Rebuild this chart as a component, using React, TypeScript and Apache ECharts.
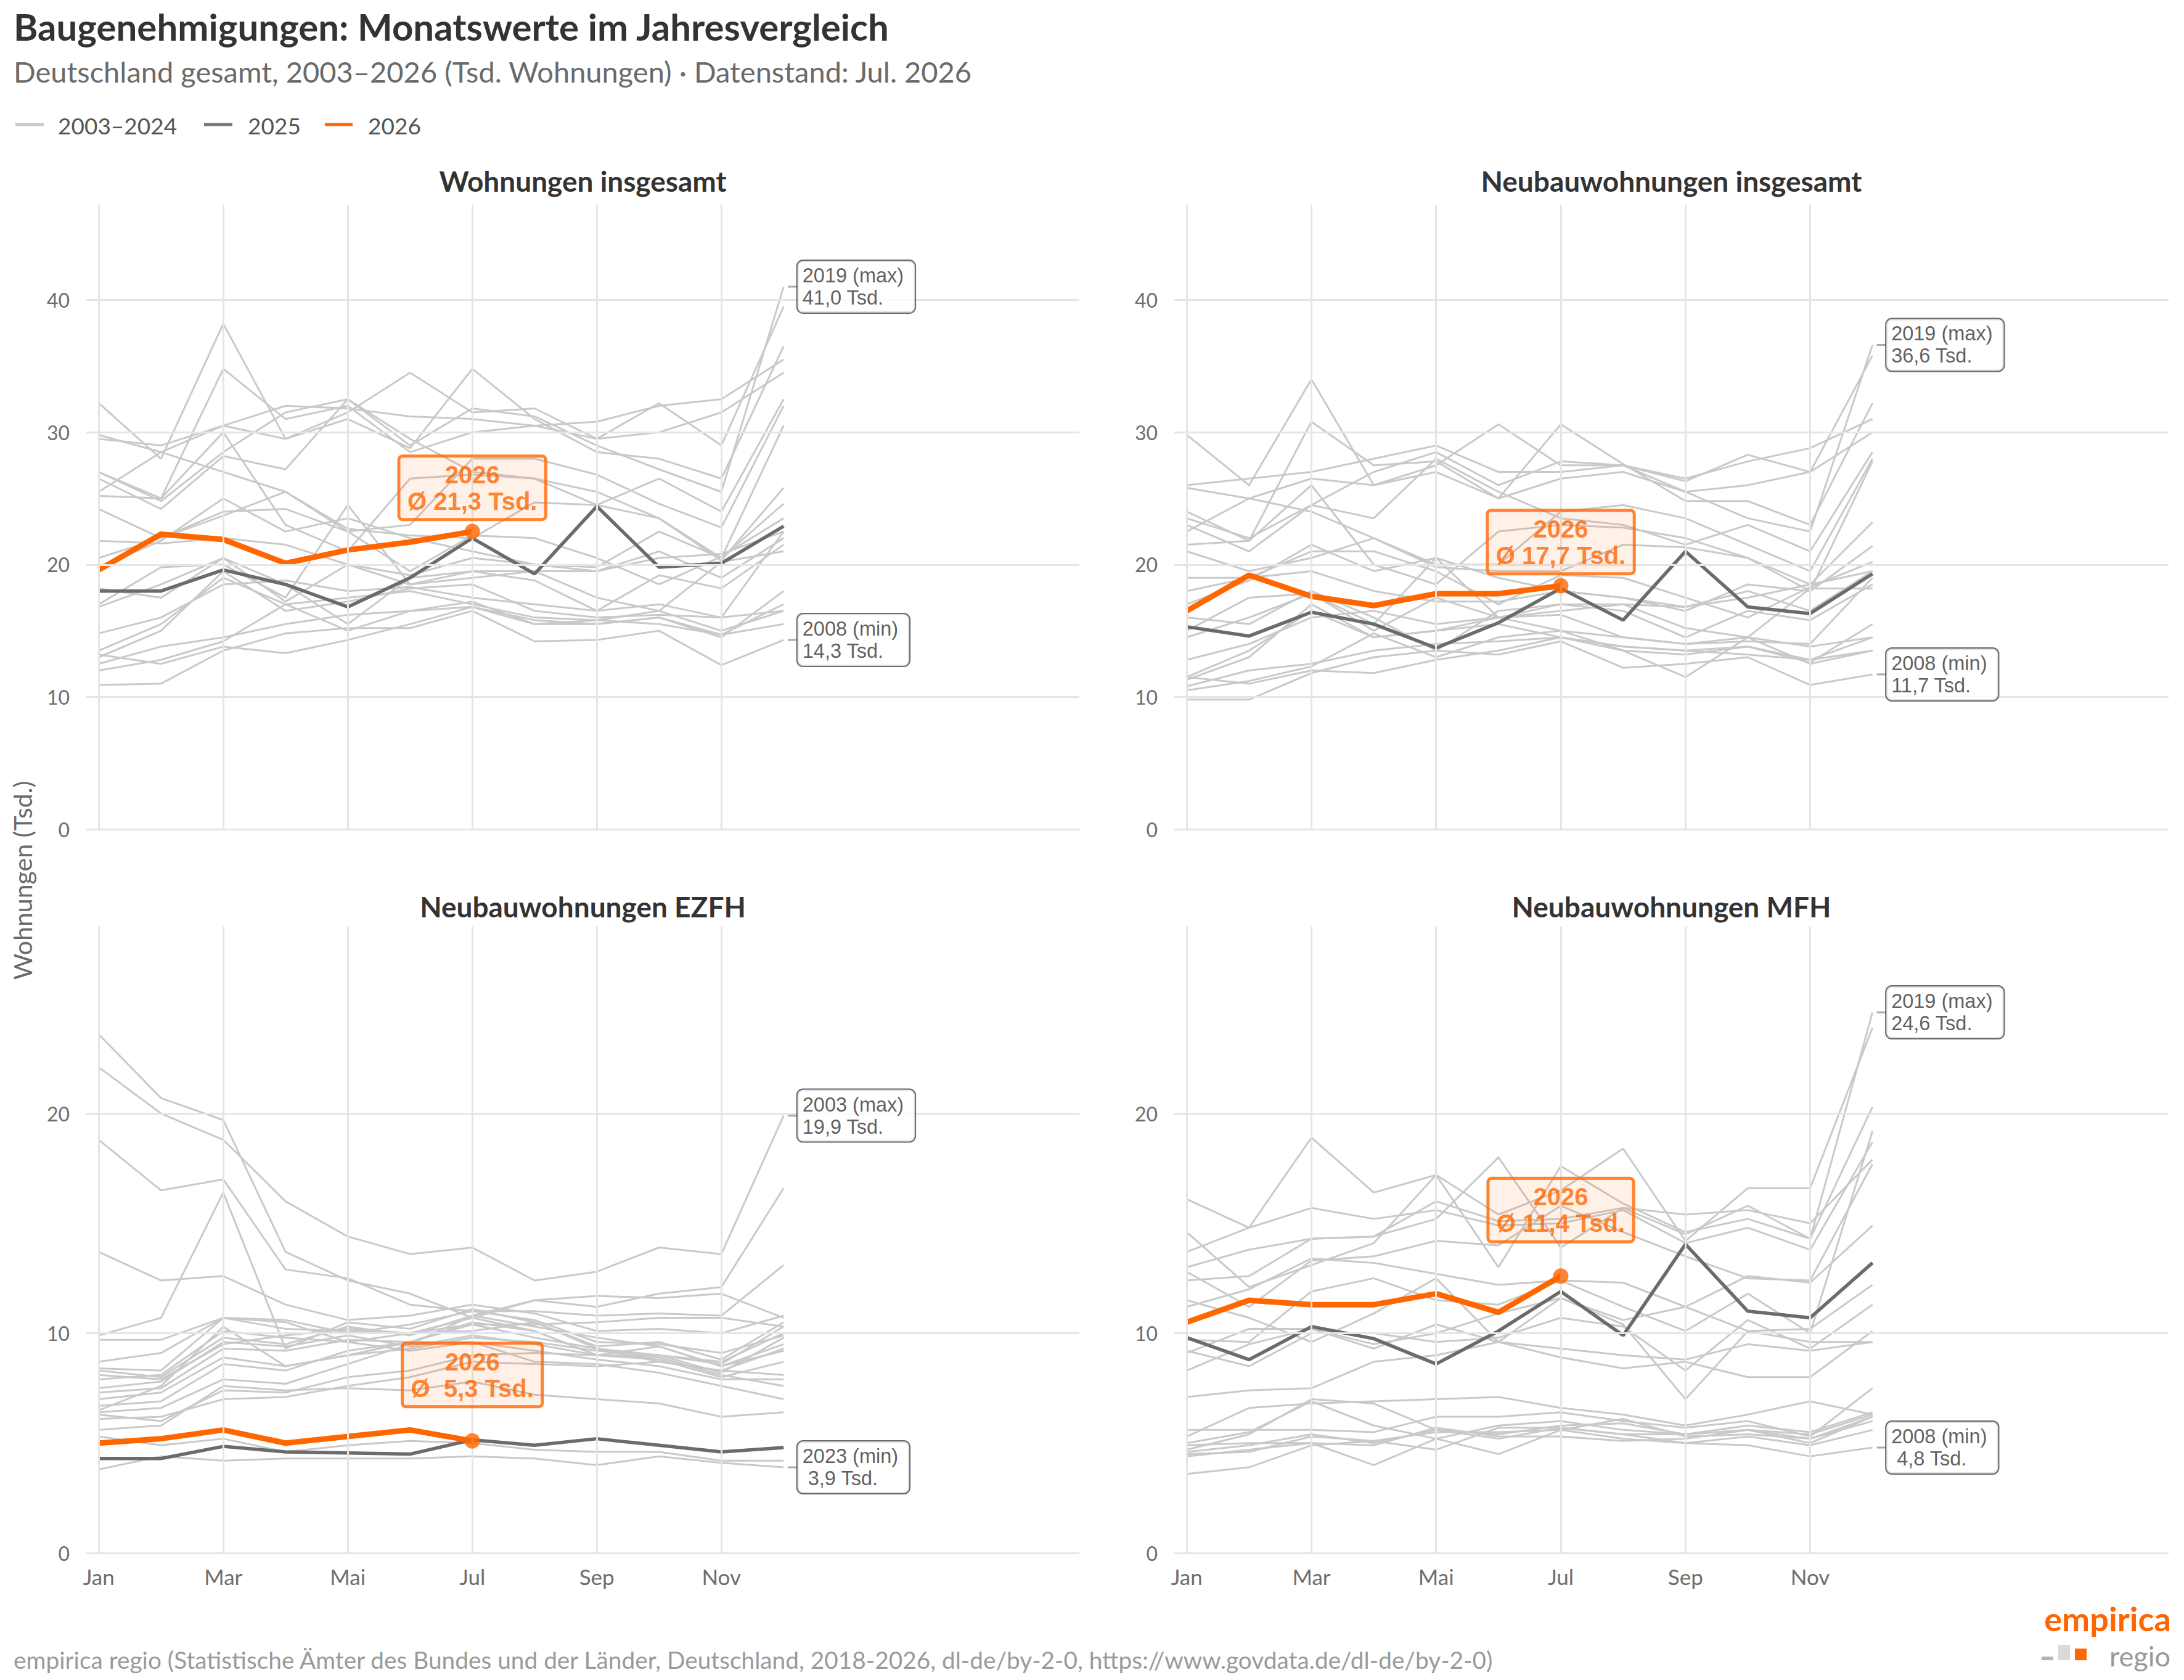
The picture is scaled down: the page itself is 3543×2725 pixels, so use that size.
import React, { useEffect, useRef } from "react";
import * as echarts from "echarts";

// ---------- data ----------
const monthNames = ["Jan", "Feb", "Mar", "Apr", "Mai", "Jun", "Jul", "Aug", "Sep", "Okt", "Nov", "Dez"];
const tickMonths = [1, 3, 5, 7, 9, 11];
const histYears = [2003, 2004, 2005, 2006, 2007, 2008, 2009, 2010, 2011, 2012, 2013, 2014, 2015, 2016, 2017, 2018, 2019, 2020, 2021, 2022, 2023, 2024];
const panelTitles = ["Wohnungen insgesamt", "Neubauwohnungen insgesamt", "Neubauwohnungen EZFH", "Neubauwohnungen MFH"];
const yTicksTop = [0, 10, 20, 30, 40];
const yTicksBottom = [0, 10, 20];

// Wohnungen insgesamt, 2003..2024 (Tsd.)
const insgesamtHist: number[][] = [
  [17.0, 19.8, 20.0, 17.5, 24.5, 18.5, 19.5, 19.5, 19.5, 21.0, 19.0, 22.0],
  [18.2, 17.5, 20.5, 18.5, 15.5, 19.0, 19.5, 18.8, 16.5, 19.2, 18.2, 21.5],
  [14.8, 16.0, 18.5, 18.8, 18.0, 18.3, 17.5, 17.0, 16.5, 17.0, 16.0, 16.5],
  [13.5, 15.5, 19.0, 17.0, 17.5, 18.0, 17.0, 16.0, 15.8, 15.5, 14.7, 17.0],
  [12.5, 13.8, 14.5, 15.5, 16.2, 16.5, 16.8, 15.8, 15.5, 16.0, 14.7, 15.5],
  [10.9, 11.0, 13.5, 14.8, 15.2, 15.2, 16.5, 14.2, 14.3, 15.0, 12.4, 14.3],
  [12.0, 12.8, 14.2, 17.0, 15.0, 16.5, 17.2, 15.5, 15.8, 16.5, 15.0, 16.5],
  [13.2, 12.5, 13.8, 13.3, 14.3, 15.5, 16.8, 15.5, 15.5, 16.0, 14.5, 18.0],
  [13.0, 15.0, 19.5, 16.5, 17.2, 18.2, 18.5, 16.5, 16.0, 16.2, 16.0, 22.5],
  [16.8, 18.5, 20.5, 17.2, 20.0, 18.5, 19.0, 19.5, 17.5, 16.5, 20.2, 21.0],
  [19.8, 21.8, 25.0, 22.5, 23.5, 22.0, 21.0, 20.0, 19.5, 20.5, 20.8, 22.5],
  [20.5, 22.0, 24.0, 24.2, 22.5, 19.5, 22.2, 22.0, 20.5, 18.5, 20.6, 23.5],
  [25.2, 25.0, 30.0, 23.0, 21.0, 26.5, 26.8, 26.5, 25.5, 23.5, 20.5, 30.5],
  [25.5, 28.5, 27.0, 25.5, 22.5, 23.0, 28.0, 28.0, 26.8, 24.6, 22.8, 32.0],
  [26.5, 24.2, 28.2, 27.2, 32.5, 29.5, 27.0, 26.5, 24.5, 26.5, 24.0, 32.5],
  [27.0, 25.0, 34.8, 31.0, 32.0, 28.5, 30.0, 30.5, 29.5, 30.0, 31.5, 34.5],
  [27.0, 24.8, 28.5, 31.5, 32.5, 29.0, 31.8, 31.2, 29.0, 27.2, 25.5, 41.0],
  [29.8, 28.5, 30.5, 29.5, 31.5, 34.5, 31.5, 31.8, 29.5, 32.2, 29.0, 39.5],
  [32.2, 28.0, 38.2, 29.5, 31.0, 28.8, 34.8, 31.0, 28.5, 28.0, 26.5, 36.5],
  [29.5, 29.0, 30.5, 32.0, 31.8, 31.2, 31.0, 30.5, 30.8, 32.0, 32.5, 35.5],
  [24.2, 22.0, 23.7, 25.5, 22.7, 22.2, 22.0, 24.7, 24.5, 23.5, 20.3, 25.8],
  [21.8, 21.6, 22.0, 21.5, 20.0, 19.2, 20.5, 20.0, 19.8, 22.5, 20.5, 24.6],
];
const insgesamt2025 = [18.0, 18.0, 19.6, 18.5, 16.8, 19.0, 22.0, 19.3, 24.4, 19.8, 20.1, 22.9];
const insgesamt2026 = [19.6, 22.3, 21.9, 20.1, 21.1, 21.7, 22.5];

// Neubauwohnungen insgesamt
const neubauHist: number[][] = [
  [15.0, 17.5, 17.8, 15.5, 20.5, 16.0, 17.0, 17.0, 16.8, 18.0, 16.5, 19.5],
  [16.0, 15.5, 18.0, 16.0, 13.5, 16.5, 17.0, 16.5, 14.5, 16.5, 15.8, 18.5],
  [12.8, 14.0, 16.0, 16.5, 15.5, 16.0, 15.0, 14.5, 14.0, 14.5, 13.8, 14.5],
  [11.5, 13.5, 16.5, 14.5, 15.0, 15.5, 14.5, 13.8, 13.5, 13.2, 12.8, 14.5],
  [10.8, 12.0, 12.5, 13.5, 14.0, 14.2, 14.5, 13.5, 13.2, 13.8, 12.8, 13.5],
  [9.8, 9.8, 11.8, 13.0, 13.5, 13.2, 14.2, 12.2, 12.5, 13.0, 10.9, 11.7],
  [10.5, 11.2, 12.3, 14.8, 13.0, 14.5, 15.0, 13.5, 11.5, 14.5, 12.5, 13.5],
  [11.5, 11.0, 12.0, 11.8, 12.8, 13.5, 14.5, 13.8, 13.5, 13.8, 12.6, 15.5],
  [11.3, 13.0, 17.0, 14.5, 15.0, 16.0, 16.2, 14.5, 14.0, 14.2, 14.0, 19.0],
  [14.5, 16.0, 17.8, 15.0, 17.5, 16.0, 16.5, 17.0, 15.2, 14.5, 18.2, 18.2],
  [17.0, 18.8, 21.5, 19.5, 20.5, 19.0, 18.0, 17.5, 16.8, 17.5, 18.5, 19.5],
  [18.0, 19.0, 21.0, 21.0, 19.5, 17.0, 19.2, 19.0, 17.5, 16.0, 18.3, 20.2],
  [21.5, 21.8, 26.0, 20.0, 18.5, 22.5, 23.0, 22.8, 22.0, 20.5, 18.0, 27.8],
  [22.5, 25.0, 24.0, 22.0, 20.0, 20.0, 24.0, 24.5, 23.5, 21.5, 19.5, 28.0],
  [23.0, 21.0, 24.5, 23.5, 28.0, 25.5, 23.5, 23.0, 21.5, 23.0, 21.0, 28.5],
  [24.0, 21.8, 30.8, 27.5, 27.8, 25.0, 26.5, 27.0, 25.5, 26.0, 27.0, 30.0],
  [23.5, 22.0, 24.5, 27.0, 28.5, 26.0, 27.8, 27.5, 25.5, 23.5, 22.5, 36.6],
  [25.8, 25.0, 26.5, 26.0, 27.5, 30.6, 27.5, 27.5, 26.3, 28.3, 27.0, 35.8],
  [29.8, 26.0, 34.0, 26.0, 27.0, 25.0, 30.6, 27.6, 24.8, 24.8, 23.0, 32.2],
  [26.0, 26.5, 27.0, 28.0, 29.0, 27.0, 27.0, 27.5, 26.5, 27.8, 28.8, 31.0],
  [21.0, 19.5, 20.5, 22.0, 19.8, 19.5, 19.5, 21.5, 21.3, 20.5, 18.5, 23.2],
  [19.0, 19.0, 19.5, 18.0, 17.2, 17.2, 18.0, 17.5, 16.5, 18.5, 18.0, 21.4],
];
const neubau2025 = [15.3, 14.6, 16.4, 15.5, 13.7, 15.6, 18.2, 15.8, 21.0, 16.8, 16.3, 19.3];
const neubau2026 = [16.5, 19.2, 17.6, 16.9, 17.8, 17.8, 18.4];

// Neubauwohnungen EZFH
const ezfhHist: number[][] = [
  [22.1, 20.0, 18.8, 16.0, 14.4, 13.6, 13.9, 12.4, 12.8, 13.9, 13.6, 19.9],
  [23.6, 20.7, 19.7, 13.7, 12.4, 11.8, 10.7, 11.5, 11.2, 11.8, 12.1, 16.6],
  [18.8, 16.5, 17.0, 12.9, 12.5, 11.3, 11.0, 11.0, 10.8, 10.9, 10.8, 13.1],
  [13.7, 12.4, 12.6, 11.3, 10.6, 10.8, 11.3, 10.9, 10.1, 10.2, 10.0, 10.8],
  [9.9, 10.7, 16.4, 9.3, 10.5, 10.2, 11.1, 10.5, 9.4, 9.6, 8.8, 10.5],
  [9.7, 9.7, 10.7, 10.2, 10.1, 10.0, 10.7, 10.1, 9.0, 9.0, 8.6, 10.3],
  [8.7, 9.1, 10.7, 10.6, 10.0, 10.4, 11.0, 10.6, 9.6, 9.5, 9.1, 9.9],
  [8.3, 8.0, 9.8, 9.5, 10.3, 9.9, 10.8, 10.3, 9.8, 9.4, 8.5, 9.2],
  [7.9, 8.1, 10.1, 9.8, 9.6, 10.0, 10.4, 9.8, 9.3, 9.0, 8.2, 9.8],
  [7.5, 7.8, 9.6, 9.4, 9.9, 9.4, 9.9, 9.5, 9.0, 8.8, 8.0, 8.7],
  [8.1, 7.9, 9.5, 9.9, 10.2, 10.0, 10.1, 10.5, 9.3, 8.7, 8.3, 8.1],
  [8.4, 8.3, 10.7, 10.5, 9.6, 9.2, 9.6, 9.2, 8.8, 8.5, 7.9, 7.9],
  [7.3, 7.5, 9.3, 9.2, 9.7, 9.6, 10.5, 10.1, 9.0, 8.9, 8.1, 7.6],
  [7.0, 7.3, 8.9, 8.5, 9.0, 9.3, 9.8, 9.6, 9.2, 9.0, 8.7, 10.0],
  [6.7, 6.9, 8.6, 8.3, 9.2, 9.6, 10.4, 10.4, 10.5, 10.7, 10.7, 10.3],
  [6.4, 6.6, 7.9, 7.7, 8.6, 9.5, 10.8, 11.5, 11.7, 11.6, 11.8, 10.7],
  [6.3, 6.0, 7.4, 7.3, 8.0, 8.3, 9.0, 9.1, 9.0, 9.4, 8.5, 9.5],
  [6.1, 6.2, 7.0, 7.1, 7.6, 8.0, 8.7, 8.6, 8.5, 8.7, 8.3, 9.3],
  [6.5, 7.6, 10.3, 8.5, 9.0, 9.6, 9.6, 8.7, 8.6, 8.2, 7.6, 7.0],
  [5.6, 5.8, 7.6, 7.4, 7.5, 7.4, 7.8, 7.2, 7.0, 6.8, 6.2, 6.4],
  [3.8, 4.4, 4.2, 4.3, 4.3, 4.3, 4.4, 4.3, 4.0, 4.4, 4.1, 3.9],
  [5.3, 4.9, 5.2, 4.6, 4.9, 5.1, 5.0, 4.7, 4.6, 4.6, 4.2, 4.2],
];
const ezfh2025 = [4.3, 4.3, 4.85, 4.6, 4.55, 4.5, 5.15, 4.9, 5.2, 4.9, 4.6, 4.8];
const ezfh2026 = [5.0, 5.2, 5.6, 5.0, 5.3, 5.6, 5.1];

// Neubauwohnungen MFH
const mfhHist: number[][] = [
  [4.6, 4.9, 5.4, 5.0, 5.6, 5.2, 5.7, 5.4, 5.0, 5.3, 4.9, 5.6],
  [5.0, 5.5, 6.9, 5.8, 5.2, 5.8, 6.0, 5.6, 5.4, 5.6, 5.2, 6.2],
  [4.4, 4.7, 5.0, 4.9, 5.7, 5.3, 5.3, 5.1, 5.2, 5.6, 5.4, 6.3],
  [4.7, 5.4, 7.0, 6.8, 5.6, 5.4, 5.8, 5.9, 5.4, 5.8, 5.5, 6.4],
  [5.3, 6.6, 6.8, 6.9, 7.0, 7.1, 6.6, 6.3, 5.8, 6.3, 6.9, 6.3],
  [3.6, 3.9, 4.9, 5.1, 5.5, 5.5, 5.6, 5.2, 5.0, 4.9, 4.4, 4.8],
  [4.5, 4.6, 5.3, 5.1, 4.7, 5.7, 5.7, 5.4, 5.4, 5.6, 5.0, 6.2],
  [4.9, 5.0, 5.0, 4.0, 5.2, 4.5, 5.6, 6.1, 5.3, 5.4, 5.2, 6.0],
  [5.6, 5.6, 5.6, 5.5, 6.2, 6.2, 6.4, 6.0, 5.7, 6.0, 5.3, 7.5],
  [7.1, 7.4, 7.5, 8.7, 9.0, 9.6, 8.9, 8.4, 8.7, 8.0, 8.0, 10.1],
  [8.3, 9.5, 10.2, 9.3, 10.4, 9.6, 9.3, 9.0, 8.8, 9.5, 9.2, 9.6],
  [9.2, 8.5, 10.0, 10.0, 9.6, 9.8, 10.7, 10.3, 8.3, 10.6, 9.3, 11.3],
  [11.5, 10.7, 9.6, 10.9, 12.5, 9.6, 11.6, 10.6, 11.2, 10.1, 10.2, 12.2],
  [11.2, 12.0, 13.4, 13.2, 12.7, 12.2, 12.4, 12.3, 11.2, 12.6, 12.3, 14.9],
  [12.8, 11.2, 13.3, 13.5, 14.2, 14.0, 15.8, 14.6, 13.5, 12.5, 12.4, 17.7],
  [13.7, 14.8, 15.7, 15.2, 15.6, 14.9, 15.0, 15.6, 14.1, 14.8, 13.8, 18.7],
  [14.6, 12.1, 13.1, 14.1, 17.2, 13.0, 17.6, 15.9, 14.6, 15.2, 14.3, 24.6],
  [12.4, 12.6, 14.3, 14.4, 16.0, 15.1, 15.2, 15.7, 15.4, 15.6, 15.0, 17.9],
  [16.1, 14.8, 18.9, 16.4, 17.2, 15.4, 16.5, 18.4, 14.2, 16.6, 16.6, 23.9],
  [13.0, 13.8, 14.3, 14.4, 15.2, 18.0, 13.9, 15.7, 14.5, 15.8, 14.3, 20.3],
  [9.7, 9.6, 11.9, 12.5, 11.5, 11.3, 12.4, 11.2, 10.1, 11.8, 10.0, 19.2],
  [9.1, 10.2, 10.2, 9.5, 10.0, 10.9, 11.6, 10.4, 7.0, 10.1, 9.6, 9.6],
];
const mfh2025 = [9.8, 8.8, 10.3, 9.75, 8.6, 10.1, 11.9, 9.9, 14.05, 11.0, 10.7, 13.2];
const mfh2026 = [10.5, 11.5, 11.3, 11.3, 11.8, 10.95, 12.6];

// ---------- layout / style ----------
const W = 3543;
const H = 2725;
const FONT = "Lato";
const LABEL_FONT = "Liberation Sans";
const ORANGE = "#ff6600";
const DARK = "#6b6b6b";
const LIGHT = "#c9c9c9";
const GRIDLINE = "#e5e5e5";

const grids = [
  { left: 140, top: 332, width: 1611, height: 1013 },
  { left: 1905, top: 332, width: 1613, height: 1013 },
  { left: 140, top: 1503, width: 1611, height: 1016 },
  { left: 1905, top: 1503, width: 1613, height: 1016 },
];

const panels = [
  { title: panelTitles[0], hist: insgesamtHist, y25: insgesamt2025, y26: insgesamt2026, yMax: 47.2, ticks: yTicksTop, off: 3.3, row: 0 },
  { title: panelTitles[1], hist: neubauHist, y25: neubau2025, y26: neubau2026, yMax: 47.2, ticks: yTicksTop, off: 3.3, row: 0 },
  { title: panelTitles[2], hist: ezfhHist, y25: ezfh2025, y26: ezfh2026, yMax: 28.5, ticks: yTicksBottom, off: 3.0, row: 1 },
  { title: panelTitles[3], hist: mfhHist, y25: mfh2025, y26: mfh2026, yMax: 28.5, ticks: yTicksBottom, off: 3.0, row: 1 },
];

const fmt = (v: number) => v.toFixed(1).replace(".", ",");
const pad4 = (s: string) => (s.length < 4 ? " ".repeat(4 - s.length) + s : s);
const toPts = (arr: number[]) => arr.map((v, j) => [j + 1, v]);

function buildOption() {
  const series: any[] = [];
  const xAxis: any[] = [];
  const yAxis: any[] = [];
  const graphic: any[] = [];

  panels.forEach((p, i) => {
    const g = grids[i];
    const ax = { xAxisIndex: i, yAxisIndex: i };
    xAxis.push({
      gridIndex: i,
      type: "value",
      min: 0.8,
      max: 16.75,
      axisLine: { show: false },
      axisTick: { show: false },
      splitLine: { show: false },
      axisLabel: {
        show: p.row === 1,
        customValues: tickMonths,
        formatter: (v: number) => monthNames[Math.round(v) - 1] || "",
        color: "#6e6e6e",
        fontSize: 35,
        fontFamily: FONT,
        margin: 20,
      },
    });
    yAxis.push({
      gridIndex: i,
      type: "value",
      min: 0,
      max: p.yMax,
      interval: 10,
      axisLine: { show: false },
      axisTick: { show: false },
      splitLine: { show: false },
      axisLabel: { showMaxLabel: false, color: "#6e6e6e", fontSize: 32, fontFamily: FONT, margin: 27 },
    });

    // gridlines
    series.push({
      type: "line",
      ...ax,
      data: [[1, 0]],
      symbol: "none",
      lineStyle: { opacity: 0 },
      silent: true,
      z: 1,
      markLine: {
        silent: true,
        symbol: ["none", "none"],
        label: { show: false },
        lineStyle: { color: GRIDLINE, width: 3, type: "solid" },
        emphasis: { disabled: true },
        data: [...tickMonths.map((m) => ({ xAxis: m })), ...p.ticks.map((v) => ({ yAxis: v }))],
      },
    });

    p.hist.forEach((row) => {
      series.push({
        type: "line",
        name: "2003–2024",
        ...ax,
        data: toPts(row),
        symbol: "none",
        lineStyle: { color: LIGHT, width: 3 },
        silent: true,
        z: 2,
      });
    });

    series.push({
      type: "line",
      name: "2025",
      ...ax,
      data: toPts(p.y25),
      symbol: "none",
      lineStyle: { color: DARK, width: 5.5 },
      silent: true,
      z: 3,
    });
    series.push({
      type: "line",
      name: "2026",
      ...ax,
      data: toPts(p.y26),
      symbol: "none",
      lineStyle: { color: ORANGE, width: 9 },
      silent: true,
      z: 4,
    });

    const lastIdx = p.y26.length;
    const last = p.y26[lastIdx - 1];
    const mean = p.y26.reduce((a, b) => a + b, 0) / p.y26.length;
    const pxPerUnit = g.height / p.yMax;
    const halfBox = 52 / pxPerUnit;

    // connector to orange label
    series.push({
      type: "line",
      ...ax,
      data: [[lastIdx, last], [lastIdx, last + p.off - halfBox]],
      symbol: "none",
      lineStyle: { color: ORANGE, width: 2.6 },
      silent: true,
      z: 4,
    });
    // last point
    series.push({
      type: "scatter",
      ...ax,
      data: [[lastIdx, last]],
      symbol: "circle",
      symbolSize: 25,
      itemStyle: { color: ORANGE },
      silent: true,
      z: 5,
    });
    // orange label box
    series.push({
      type: "scatter",
      ...ax,
      data: [[lastIdx, last + p.off]],
      symbolSize: 1,
      itemStyle: { color: "rgba(0,0,0,0)" },
      silent: true,
      z: 6,
      label: {
        show: true,
        position: "inside",
        formatter: `2026\nØ ${pad4(fmt(mean))} Tsd.`,
        color: ORANGE,
        fontFamily: LABEL_FONT,
        fontWeight: "bold",
        fontSize: 40,
        lineHeight: 43,
        align: "center",
        backgroundColor: "rgba(255,102,0,0.12)",
        borderColor: ORANGE,
        borderWidth: 2.5,
        borderRadius: 6,
        padding: [9, 14, 8, 14],
      },
    });

    // max / min labels at December
    const dec = p.hist.map((r) => r[11]);
    let iMax = 0;
    let iMin = 0;
    dec.forEach((v, k) => {
      if (v > dec[iMax]) iMax = k;
      if (v < dec[iMin]) iMin = k;
    });
    const ext = [
      { k: iMax, tag: "max" },
      { k: iMin, tag: "min" },
    ];
    const pxX = g.width / (16.75 - 0.8);
    ext.forEach((e) => {
      const v = dec[e.k];
      series.push({
        type: "line",
        ...ax,
        data: [[12 + 7 / pxX, v], [12 + 22 / pxX, v]],
        symbol: "none",
        lineStyle: { color: "#aaaaaa", width: 3 },
        silent: true,
        z: 5,
      });
      series.push({
        type: "scatter",
        ...ax,
        data: [[12 + 22 / pxX, v]],
        symbolSize: 1,
        itemStyle: { color: "rgba(0,0,0,0)" },
        silent: true,
        z: 6,
        label: {
          show: true,
          position: "right",
          distance: 0,
          formatter: `${histYears[e.k]} (${e.tag})\n${pad4(fmt(v))} Tsd.`,
          color: "#363636",
          fontFamily: LABEL_FONT,
          fontSize: 32.5,
          lineHeight: 36,
          align: "left",
          backgroundColor: "#ffffff",
          borderColor: "#444444",
          borderWidth: 2,
          borderRadius: 9,
          padding: [6, 18, 6, 8],
        },
      });
    });

    graphic.push({
      type: "text",
      x: g.left + g.width / 2,
      y: p.row === 0 ? 293 : 1470,
      style: {
        text: p.title,
        fill: "#333333",
        font: `bold 46px ${FONT}`,
        align: "center",
        verticalAlign: "middle",
      },
    });
  });

  // header
  graphic.push(
    { type: "text", x: 22, y: 43, style: { text: "Baugenehmigungen: Monatswerte im Jahresvergleich", fill: "#333333", font: `bold 60px ${FONT}`, verticalAlign: "middle" } },
    { type: "text", x: 22, y: 116, style: { text: "Deutschland gesamt, 2003–2026 (Tsd. Wohnungen) · Datenstand: Jul. 2026", fill: "#6a6a6a", font: `47px ${FONT}`, verticalAlign: "middle" } }
  );
  const legendItems = [
    { x1: 25, x2: 71, tx: 94, color: LIGHT, text: "2003–2024" },
    { x1: 331, x2: 377, tx: 402, color: "#777777", text: "2025" },
    { x1: 527, x2: 572, tx: 597, color: ORANGE, text: "2026" },
  ];
  legendItems.forEach((l) => {
    graphic.push({ type: "line", shape: { x1: l.x1, y1: 202, x2: l.x2, y2: 202 }, style: { stroke: l.color, lineWidth: 5 } });
    graphic.push({ type: "text", x: l.tx, y: 203, style: { text: l.text, fill: "#555555", font: `37px ${FONT}`, verticalAlign: "middle" } });
  });
  // y axis title
  graphic.push({
    type: "text",
    x: 36,
    y: 1428,
    rotation: Math.PI / 2,
    style: { text: "Wohnungen (Tsd.)", fill: "#6a6a6a", font: `41px ${FONT}`, align: "center", verticalAlign: "middle" },
  });
  // caption
  graphic.push({
    type: "text",
    x: 22,
    y: 2692,
    style: {
      text: "empirica regio (Statistische Ämter des Bundes und der Länder, Deutschland, 2018-2026, dl-de/by-2-0, https://www.govdata.de/dl-de/by-2-0)",
      fill: "#9a9a9a",
      font: `38.8px ${FONT}`,
      verticalAlign: "middle",
    },
  });
  // logo
  graphic.push(
    { type: "text", x: 3522, y: 2625, style: { text: "empirica", fill: ORANGE, font: `bold 54px ${FONT}`, align: "right", verticalAlign: "middle" } },
    { type: "text", x: 3521, y: 2686, style: { text: "regio", fill: "#999999", font: `45px ${FONT}`, align: "right", verticalAlign: "middle" } },
    { type: "rect", shape: { x: 3312, y: 2687, width: 19, height: 6 }, style: { fill: "#b3b3b3" } },
    { type: "rect", shape: { x: 3339, y: 2668, width: 19, height: 25 }, style: { fill: "#d9d9d9" } },
    { type: "rect", shape: { x: 3366, y: 2674, width: 19, height: 19 }, style: { fill: ORANGE } }
  );

  return {
    animation: false,
    backgroundColor: "#ffffff",
    textStyle: { fontFamily: FONT },
    grid: grids.map((g) => ({ ...g, outerBoundsMode: "none", containLabel: false })),
    xAxis,
    yAxis,
    series,
    graphic,
  };
}

export default function App() {
  const ref = useRef<HTMLDivElement>(null);
  useEffect(() => {
    document.body.style.margin = "0";
    document.body.style.overflow = "hidden";
    if (!ref.current) return;
    const chart = echarts.init(ref.current, undefined, { renderer: "svg" });
    chart.setOption(buildOption() as any);
    return () => chart.dispose();
  }, []);
  return <div ref={ref} style={{ width: W, height: H }} />;
}
